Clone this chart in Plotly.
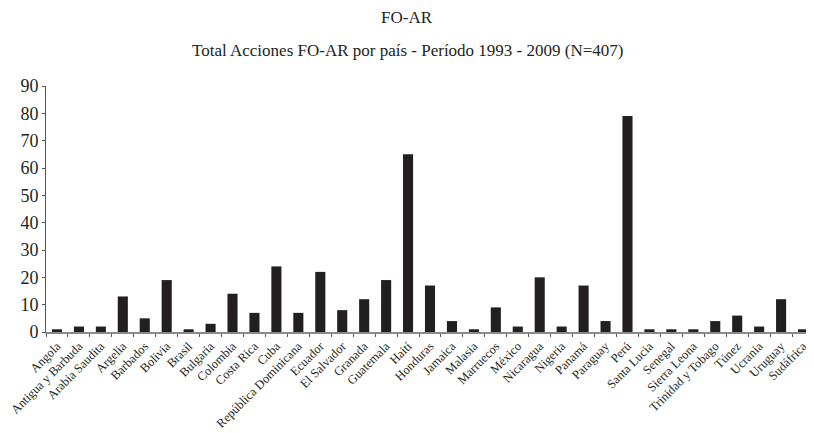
import plotly.graph_objects as go

paises = ["Angola", "Antigua y Barbuda", "Arabia Saudita", "Argelia", "Barbados", "Bolivia",
          "Brasil", "Bulgaria", "Colombia", "Costa Rica", "Cuba", "República Dominicana",
          "Ecuador", "El Salvador", "Granada", "Guatemala", "Haití", "Honduras", "Jamaica",
          "Malasia", "Marruecos", "México", "Nicaragua", "Nigeria", "Panamá", "Paraguay",
          "Perú", "Santa Lucia", "Senegal", "Sierra Leona", "Trinidad y Tobago", "Túnez",
          "Ucrania", "Uruguay", "Sudáfrica"]
acciones = [1, 2, 2, 13, 5, 19,
            1, 3, 14, 7, 24, 7,
            22, 8, 12, 19, 65, 17, 4,
            1, 9, 2, 20, 2, 17, 4,
            79, 1, 1, 1, 4, 6,
            2, 12, 1]

y_ticks = [0, 10, 20, 30, 40, 50, 60, 70, 80, 90]

FONT = "Liberation Serif, Times New Roman, serif"
INK = "#231f20"

# page has an 8px body margin; figure is sized to fill the rest
W, H = 806, 425
L, T, B = 38, 78, 101
PH = H - T - B   # plot height in px
PW = W - L       # plot width in px

fig = go.Figure(go.Bar(
    x=paises, y=acciones,
    marker=dict(color=INK, line=dict(width=0)),
    width=0.46,
))

fig.update_layout(
    width=W, height=H,
    margin=dict(l=L, r=0, t=T, b=B, pad=0),
    paper_bgcolor="white", plot_bgcolor="white",
    font=dict(family=FONT, color=INK),
    showlegend=False,
)

fig.add_annotation(text="FO-AR", xref="paper", yref="paper",
                   x=(399 - L) / PW, y=(T + PH - 9) / PH, yanchor="middle",
                   showarrow=False, font=dict(size=17, family=FONT, color=INK))
fig.add_annotation(text="Total Acciones FO-AR por país - Período 1993 - 2009 (N=407)",
                   xref="paper", yref="paper",
                   x=(399 - L) / PW, y=(T + PH - 42) / PH, yanchor="middle",
                   showarrow=False, font=dict(size=17, family=FONT, color=INK))

fig.update_xaxes(
    tickangle=-45, tickfont=dict(size=12.5, family=FONT, color=INK),
    showline=True, linecolor="#8a8a8a", linewidth=2,
    ticks="outside", tickson="boundaries", ticklen=3, tickcolor="#555",
    showgrid=False, zeroline=False, automargin=False,
)
fig.update_yaxes(
    range=[0, 90], tickvals=y_ticks,
    tickfont=dict(size=18, family=FONT, color=INK),
    showline=True, linecolor="#555", linewidth=1,
    ticks="outside", ticklen=3, tickcolor="#555",
    showgrid=False, zeroline=False, automargin=False,
)

fig.write_html("out.html")
